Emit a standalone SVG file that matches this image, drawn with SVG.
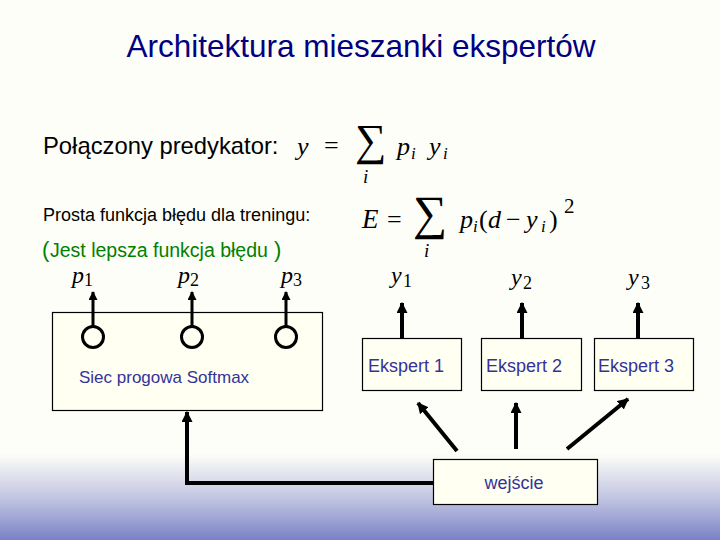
<svg xmlns="http://www.w3.org/2000/svg" width="720" height="540" viewBox="0 0 720 540">
<defs>
<linearGradient id="bg" x1="0" y1="0" x2="0" y2="1">
<stop offset="0" stop-color="#fefef8"/>
<stop offset="0.84" stop-color="#fefef8"/>
<stop offset="0.92" stop-color="#c4c7e3"/>
<stop offset="1" stop-color="#7a82c6"/>
</linearGradient>
<marker id="ah" markerUnits="userSpaceOnUse" viewBox="0 0 10 10" refX="9" refY="5" markerWidth="11" markerHeight="11" orient="auto">
<path d="M0,0 L10,5 L0,10 z" fill="#000"/>
</marker>
<marker id="ahs" markerUnits="userSpaceOnUse" viewBox="0 0 10 10" refX="9" refY="5" markerWidth="10" markerHeight="9" orient="auto">
<path d="M0,0 L10,5 L0,10 z" fill="#000"/>
</marker>
</defs>
<style>
.box{fill:#fffff2;stroke:#000;stroke-width:1.2}
.lbl{font-family:"Liberation Sans",Arial,sans-serif;fill:#333399}
.txt{font-family:"Liberation Sans",Arial,sans-serif;fill:#000}
.math{font-family:"Liberation Serif","Times New Roman",serif;fill:#000}
.it{font-style:italic}
.conn{stroke:#000;fill:none}
.gate{fill:none;stroke:#000;stroke-width:3}
.grn{font-family:"Liberation Sans",Arial,sans-serif;fill:#008000}
</style>
<rect x="0" y="0" width="720" height="540" fill="url(#bg)"/>
<text x="361" y="57" text-anchor="middle" font-family="Liberation Sans, Arial, sans-serif" font-size="31.5" fill="#000080">Architektura mieszanki ekspertów</text>

<text class="txt" x="43" y="154" font-size="23.8">Połączony predykator:</text>
<g class="math">
<text class="it" x="297" y="155" font-size="26">y</text>
<text x="324" y="154" font-size="26">=</text>
<text x="355" y="155" font-size="44">∑</text>
<text class="it" x="363" y="183" font-size="19">i</text>
<text class="it" x="397" y="155" font-size="26">p</text>
<text class="it" x="411" y="159" font-size="17">i</text>
<text class="it" x="429" y="155" font-size="26">y</text>
<text class="it" x="443" y="159" font-size="17">i</text>
</g>

<text class="txt" x="43" y="221" font-size="18">Prosta funkcja błędu dla treningu:</text>
<g class="math">
<text class="it" x="362" y="228" font-size="27">E</text>
<text x="387" y="228" font-size="26">=</text>
<text x="413" y="229" font-size="48">∑</text>
<text class="it" x="424" y="257" font-size="19">i</text>
<text class="it" x="460" y="228" font-size="26">p</text>
<text class="it" x="473" y="232" font-size="17">i</text>
<text x="479" y="228" font-size="26">(</text>
<text class="it" x="488" y="228" font-size="26">d</text>
<text x="506" y="228" font-size="26">−</text>
<text class="it" x="526" y="228" font-size="26">y</text>
<text class="it" x="541" y="232" font-size="17">i</text>
<text x="549" y="228" font-size="26">)</text>
<text x="564" y="213" font-size="21">2</text>
</g>
<g class="grn">
<text x="42" y="257" font-size="22">(</text>
<text x="50" y="257" font-size="19.5">Jest lepsza funkcja błędu</text>
<text x="274" y="257" font-size="22">)</text>
</g>

<g class="math">
<text class="it" x="72" y="283" font-size="24">p</text><text x="84" y="286" font-size="18">1</text>
<text class="it" x="178" y="283" font-size="24">p</text><text x="190" y="286" font-size="18">2</text>
<text class="it" x="281" y="283" font-size="24">p</text><text x="293" y="286" font-size="18">3</text>
<text class="it" x="391" y="283" font-size="24">y</text><text x="403" y="287" font-size="18">1</text>
<text class="it" x="511" y="285" font-size="24">y</text><text x="523" y="289" font-size="18">2</text>
<text class="it" x="628" y="285" font-size="24">y</text><text x="641" y="289" font-size="18">3</text>
</g>

<g id="gating">
<rect class="box" x="52.5" y="312.5" width="270" height="98"/>
<circle class="gate" cx="93" cy="337" r="10.5"/>
<circle class="gate" cx="192" cy="337" r="10.5"/>
<circle class="gate" cx="286" cy="337" r="10.5"/>
<text class="lbl" x="79" y="383" font-size="17">Siec progowa Softmax</text>
</g>
<g id="expert1">
<rect class="box" x="362.5" y="338.5" width="99" height="52"/>
<text class="lbl" x="368" y="372" font-size="18">Ekspert 1</text>
</g>
<g id="expert2">
<rect class="box" x="481.5" y="338.5" width="100" height="52"/>
<text class="lbl" x="486" y="372" font-size="18">Ekspert 2</text>
</g>
<g id="expert3">
<rect class="box" x="594.5" y="338.5" width="99" height="52"/>
<text class="lbl" x="598" y="372" font-size="18">Ekspert 3</text>
</g>
<g id="input">
<rect class="box" x="433.5" y="459.5" width="164" height="45"/>
<text class="lbl" x="514" y="489" font-size="18" text-anchor="middle">wejście</text>
</g>

<g id="connectors">
<line class="conn" stroke-width="3" x1="93" y1="326" x2="93" y2="292" marker-end="url(#ahs)"/>
<line class="conn" stroke-width="3" x1="192" y1="326" x2="192" y2="292" marker-end="url(#ahs)"/>
<line class="conn" stroke-width="3" x1="286" y1="326" x2="286" y2="292" marker-end="url(#ahs)"/>
<line class="conn" stroke-width="4" x1="402" y1="338" x2="402" y2="303" marker-end="url(#ah)"/>
<line class="conn" stroke-width="4" x1="522" y1="338" x2="522" y2="303" marker-end="url(#ah)"/>
<line class="conn" stroke-width="4" x1="638" y1="338" x2="638" y2="303" marker-end="url(#ah)"/>
<line class="conn" stroke-width="4" x1="457" y1="451" x2="418" y2="403" marker-end="url(#ah)"/>
<line class="conn" stroke-width="4" x1="516" y1="449" x2="516" y2="403" marker-end="url(#ah)"/>
<line class="conn" stroke-width="4" x1="567" y1="449" x2="628" y2="399" marker-end="url(#ah)"/>
<polyline class="conn" stroke-width="4" points="433,483 187,483 187,412" marker-end="url(#ah)"/>
</g>
</svg>
